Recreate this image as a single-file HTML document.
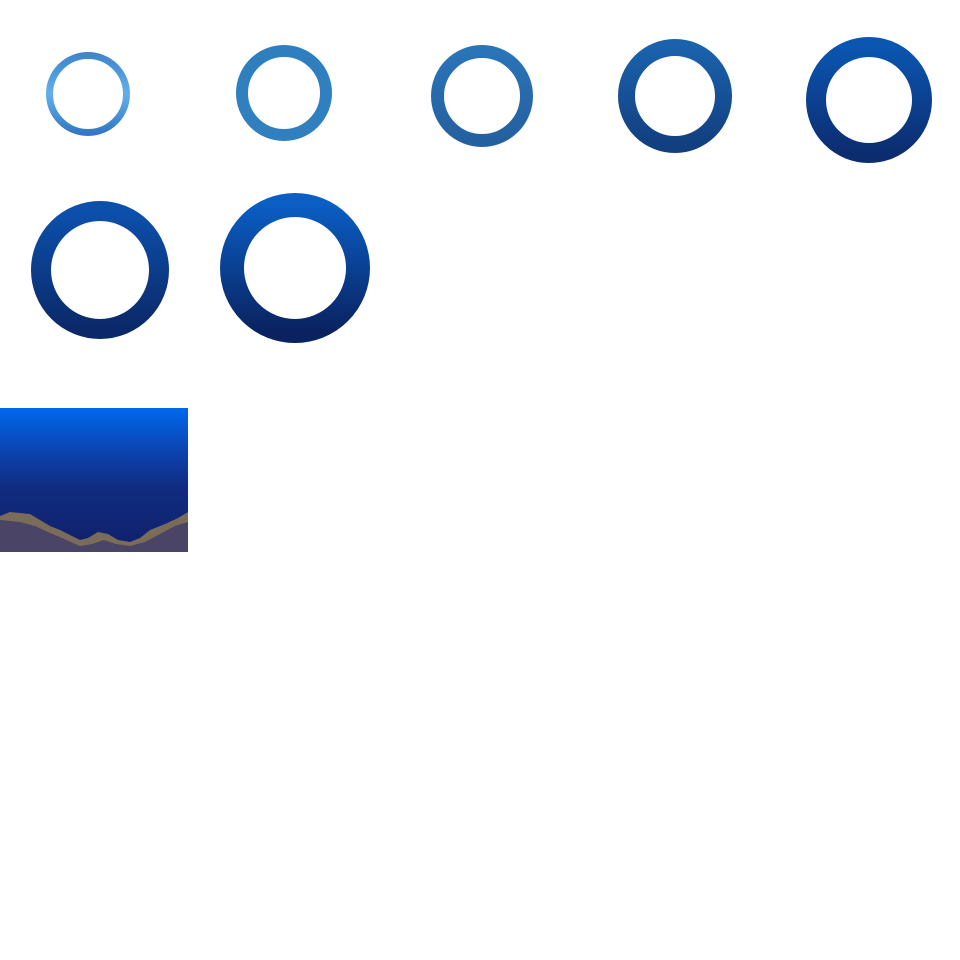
<!DOCTYPE html>
<html><head><meta charset="utf-8"><style>html,body{margin:0;padding:0;background:#fff;width:960px;height:960px;overflow:hidden}</style></head>
<body>
<svg width="960" height="960" viewBox="0 0 960 960" xmlns="http://www.w3.org/2000/svg">
<defs>
<linearGradient id="g1" x1="0" y1="0" x2="0" y2="1"><stop offset="0" stop-color="#3f86cc"/><stop offset="0.5" stop-color="#62b0ea"/><stop offset="1" stop-color="#3478c4"/></linearGradient>
<linearGradient id="g2" x1="0" y1="0" x2="0" y2="1"><stop offset="0" stop-color="#2f7fc0"/><stop offset="1" stop-color="#3080c0"/></linearGradient>
<linearGradient id="g3" x1="0" y1="0" x2="0" y2="1"><stop offset="0" stop-color="#2a74b8"/><stop offset="1" stop-color="#24609f"/></linearGradient>
<linearGradient id="g4" x1="0" y1="0" x2="0" y2="1"><stop offset="0" stop-color="#1a62ac"/><stop offset="1" stop-color="#123f80"/></linearGradient>
<linearGradient id="g5" x1="0" y1="0" x2="0" y2="1"><stop offset="0" stop-color="#0b56b0"/><stop offset="1" stop-color="#0c2c70"/></linearGradient>
<linearGradient id="g6" x1="0" y1="0" x2="0" y2="1"><stop offset="0" stop-color="#0c50ac"/><stop offset="1" stop-color="#0b2868"/></linearGradient>
<linearGradient id="g7" x1="0" y1="0" x2="0" y2="1"><stop offset="0" stop-color="#0a5ec4"/><stop offset="1" stop-color="#0a2260"/></linearGradient>
<linearGradient id="bg" x1="0" y1="0" x2="0" y2="1"><stop offset="0" stop-color="#0068ec"/><stop offset="0.3" stop-color="#0c44b0"/><stop offset="0.55" stop-color="#102c80"/><stop offset="1" stop-color="#10206a"/></linearGradient>
</defs>
<circle cx="88" cy="94" r="38.5" fill="none" stroke="url(#g1)" stroke-width="7"/>
<circle cx="284" cy="93" r="42" fill="none" stroke="url(#g2)" stroke-width="12"/>
<circle cx="482" cy="96" r="44.5" fill="none" stroke="url(#g3)" stroke-width="13"/>
<circle cx="675" cy="96" r="48.5" fill="none" stroke="url(#g4)" stroke-width="17"/>
<circle cx="869" cy="100" r="53" fill="none" stroke="url(#g5)" stroke-width="20"/>
<circle cx="100" cy="270" r="59" fill="none" stroke="url(#g6)" stroke-width="20"/>
<circle cx="295" cy="268" r="63" fill="none" stroke="url(#g7)" stroke-width="24"/>
<rect x="0" y="408" width="188" height="144" fill="url(#bg)"/>
<polygon fill="#7a6c58" points="0,516 10,512 30,514 40,520 50,526 60,530 72,536 80,540 88,538 98,532 108,534 118,540 130,542 140,538 150,530 165,524 178,518 188,512 188,552 0,552"/>
<polygon fill="#4a4566" points="0,520 20,522 35,526 48,532 62,538 80,546 92,544 104,540 116,544 130,546 145,542 160,534 175,526 188,522 188,552 0,552"/>
</svg>
</body></html>
